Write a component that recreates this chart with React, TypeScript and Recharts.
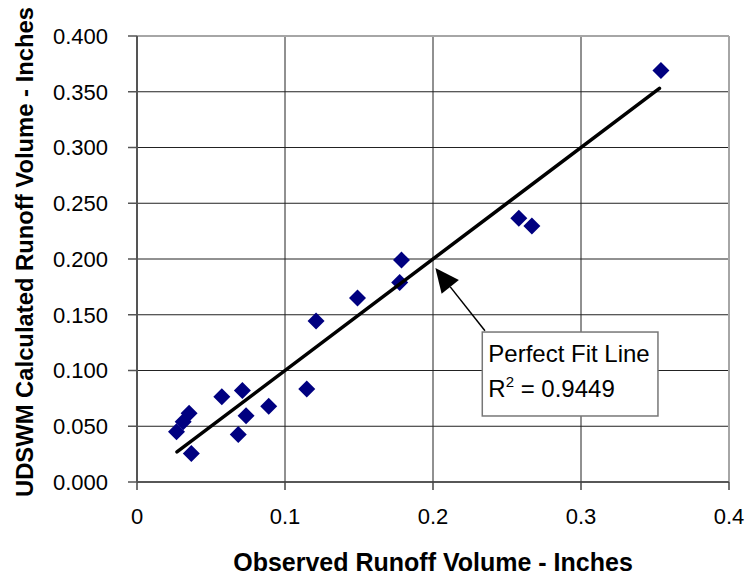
import React from "react";
import {
  CartesianGrid,
  Label,
  ReferenceArea,
  ReferenceLine,
  Scatter,
  ScatterChart,
  XAxis,
  YAxis,
} from "recharts";

const observed = [
  0.0267, 0.0312, 0.0352, 0.0367, 0.0573, 0.0684, 0.0712, 0.0737, 0.089, 0.1147, 0.121, 0.149,
  0.1775, 0.1787, 0.258, 0.2668, 0.354,
];
const calculated = [
  0.0451, 0.054, 0.0616, 0.0255, 0.0765, 0.0426, 0.082, 0.0595, 0.068, 0.0834, 0.1445, 0.165,
  0.179, 0.199, 0.2365, 0.2296, 0.369,
];

// perfect fit (1:1) line, drawn over the observed range
const fitX = [0.027, 0.353];

const xTicks = [0, 0.1, 0.2, 0.3, 0.4];
const yTicks = [0, 0.05, 0.1, 0.15, 0.2, 0.25, 0.3, 0.35, 0.4];

// annotation: box corners and arrow tail/tip in data units
const noteBoxX = [0.2333, 0.352];
const noteBoxY = [0.0592, 0.1345];
const arrowTail = { x: 0.2351, y: 0.1357 };
const arrowTip = { x: 0.2016, y: 0.1919 };
const noteTitle = "Perfect Fit Line";
const noteR2 = "0.9449";

const FONT = "'Liberation Sans', Arial, sans-serif";

const points = observed.map((x, i) => ({ x, y: calculated[i] }));
const fitLine = fitX.map((x) => ({ x, y: x }));

function Diamond(props: any) {
  const { cx, cy } = props;
  const r = 8.5;
  return (
    <polygon
      points={`${cx},${cy - r} ${cx + r},${cy} ${cx},${cy + r} ${cx - r},${cy}`}
      fill="#000080"
    />
  );
}

function Arrow(props: any) {
  const { x1, y1, x2, y2 } = props;
  const dx = x2 - x1;
  const dy = y2 - y1;
  const len = Math.sqrt(dx * dx + dy * dy);
  const ux = dx / len;
  const uy = dy / len;
  const headLen = 24;
  const half = 11;
  const bx = x2 - ux * headLen;
  const by = y2 - uy * headLen;
  return (
    <g>
      <line x1={x1} y1={y1} x2={bx} y2={by} stroke="#000" strokeWidth={1.5} />
      <polygon
        points={`${x2},${y2} ${bx - uy * half},${by + ux * half} ${bx + uy * half},${by - ux * half}`}
        fill="#000"
      />
    </g>
  );
}

function NoteBox(props: any) {
  const { x, y, width, height } = props;
  return (
    <g fontFamily={FONT} fontSize={24} fill="#000">
      <rect x={x} y={y} width={width} height={height} fill="#fff" stroke="#777" strokeWidth={1.5} />
      <text x={x + 6} y={y + 30}>
        {noteTitle}
      </text>
      <text x={x + 6} y={y + 65}>
        R
        <tspan dy={-10} fontSize={15}>
          2
        </tspan>
        <tspan dy={10}>{` = ${noteR2}`}</tspan>
      </text>
    </g>
  );
}

function YTitle({ viewBox }: any) {
  const cx = 33;
  const cy = viewBox.y + viewBox.height / 2 - 7;
  return (
    <text
      x={cx}
      y={cy}
      transform={`rotate(-90, ${cx}, ${cy})`}
      textAnchor="middle"
      fontFamily={FONT}
      fontWeight="bold"
      fontSize={23.8}
      fill="#000"
    >
      UDSWM Calculated Runoff Volume - Inches
    </text>
  );
}

function XTitle({ viewBox }: any) {
  return (
    <text
      x={viewBox.x + viewBox.width / 2}
      y={viewBox.y + 89}
      textAnchor="middle"
      fontFamily={FONT}
      fontWeight="bold"
      fontSize={25}
      fill="#000"
    >
      Observed Runoff Volume - Inches
    </text>
  );
}

const tickStyle = { fontFamily: FONT, fontSize: 22, fill: "#000" };

export default function App() {
  return (
    <div style={{ position: "absolute", left: 0, top: 0, background: "#fff" }}>
      <ScatterChart width={749} height={577} margin={{ top: 36, right: 20, bottom: 0, left: 0 }}>
        <CartesianGrid stroke="#222" strokeWidth={1} />
        <XAxis
          type="number"
          dataKey="x"
          domain={[0, 0.4]}
          ticks={xTicks}
          height={95}
          tickSize={8}
          tickMargin={18}
          tick={tickStyle}
          axisLine={{ stroke: "#444", strokeWidth: 1.5 }}
          tickLine={{ stroke: "#444", strokeWidth: 1.5 }}
        >
          <Label content={<XTitle />} />
        </XAxis>
        <YAxis
          type="number"
          dataKey="y"
          domain={[0, 0.4]}
          ticks={yTicks}
          width={137}
          tickSize={9}
          tickMargin={20}
          tick={tickStyle}
          tickFormatter={(v: number) => v.toFixed(3)}
          axisLine={{ stroke: "#555", strokeWidth: 2 }}
          tickLine={{ stroke: "#555", strokeWidth: 1.5 }}
        >
          <Label content={<YTitle />} />
        </YAxis>
        <ReferenceLine y={0.4} stroke="#a6a6a6" strokeWidth={2} />
        <ReferenceLine x={0.4} stroke="#a6a6a6" strokeWidth={2} />
        <Scatter data={points} shape={<Diamond />} isAnimationActive={false} />
        <Scatter
          data={fitLine}
          stroke="#000"
          strokeWidth={3.5}
          line={{ stroke: "#000", strokeWidth: 3.5, strokeLinecap: "round" }}
          shape={() => <g />}
          isAnimationActive={false}
        />
        <ReferenceArea
          x1={noteBoxX[0]}
          x2={noteBoxX[1]}
          y1={noteBoxY[0]}
          y2={noteBoxY[1]}
          shape={<NoteBox />}
        />
        <ReferenceLine
          segment={[arrowTail, arrowTip]}
          shape={(p: any) => <Arrow {...p} />}
        />
      </ScatterChart>
    </div>
  );
}
